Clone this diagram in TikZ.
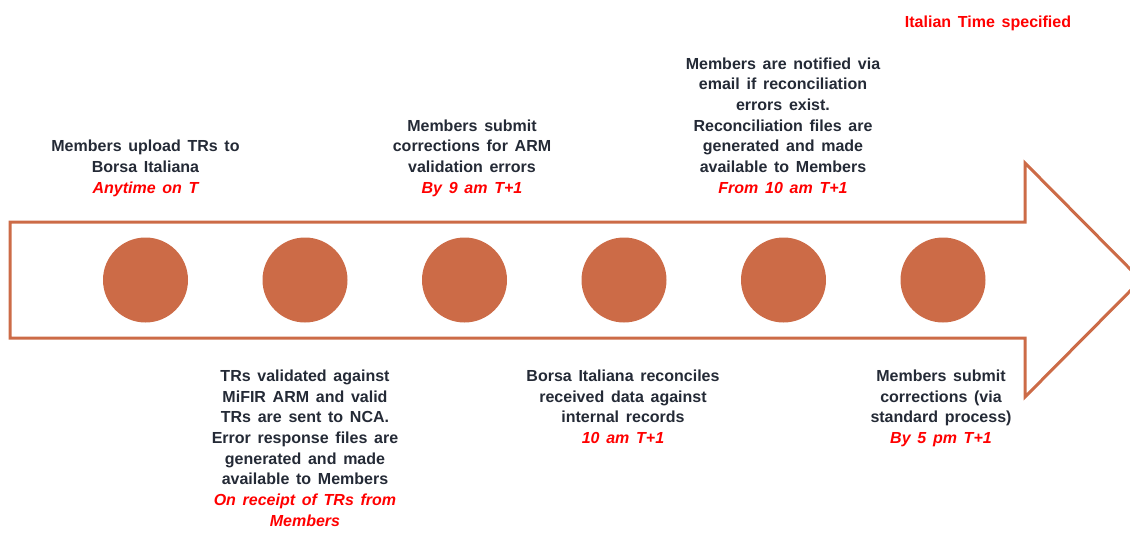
\documentclass[tikz,border=0pt]{standalone}
\usepackage{fontspec}
\setmainfont{Liberation Sans}
\usepackage{tikz}
\definecolor{rust}{RGB}{204,107,71}
\definecolor{ink}{RGB}{36,42,54}
\definecolor{timered}{RGB}{255,0,0}
\newcommand{\widespaces}{\spaceskip=0.42em plus 0.1em\relax}
\tikzset{
  arrowline/.style={draw=rust, line width=3pt, line join=miter},
  dot/.style={circle, fill=rust, draw=none, minimum size=85pt, inner sep=0pt},
  stepnote/.style={align=center, inner sep=0pt, anchor=north, text=ink,
    font=\fontsize{16}{20.7}\selectfont\bfseries\widespaces},
}
\newcommand{\when}[1]{{\color{timered}\itshape #1}}

\begin{document}
\begin{tikzpicture}[x=1pt, y=-1pt]
      \def\axis{280}
      \def\capht{11.5}
      \useasboundingbox (0,0) rectangle (1130,539);

      % Main arrow
      \draw[arrowline] (10,222) -- (1025,222) -- (1025,163) -- (1141,\axis)
        -- (1025,397) -- (1025,338) -- (10,338) -- cycle;

      % Milestones
      \foreach \x/\step in {145.5/upload, 305/validate, 464.5/correct, 624/reconcile, 783.5/notify, 943/resubmit} {
        \node[dot] (\step) at (\x,\axis) {};
      }

      % Notes above the arrow
      \node[stepnote] (uploadnote) at (145.5,{193-2*20.7-\capht})
        {Members upload TRs to\\ Borsa Italiana\\ \when{Anytime on T}};
      \node[stepnote] (correctnote) at (472,{193-3*20.7-\capht})
        {Members submit\\ corrections for ARM\\ validation errors\\ \when{By 9 am T+1}};
      \node[stepnote] (notifynote) at (783,{193-6*20.7-\capht})
        {Members are notified via\\ email if reconciliation\\ errors exist.\\ Reconciliation files are\\
         generated and made\\ available to Members\\ \when{From 10 am T+1}};

      % Notes below the arrow
      \node[stepnote] (validatenote) at (305,{381-\capht})
        {TRs validated against\\ MiFIR ARM and valid\\ TRs are sent to NCA.\\ Error response files are\\
         generated and made\\ available to Members\\ \when{On receipt of TRs from}\\ \when{Members}};
      \node[stepnote] (reconcilenote) at (623,{381-\capht})
        {Borsa Italiana reconciles\\ received data against\\ internal records\\ \when{10 am T+1}};
      \node[stepnote] (resubmitnote) at (941,{381-\capht})
        {Members submit\\ corrections (via\\ standard process)\\ \when{By 5 pm T+1}};

      % Time zone
      \node[stepnote, text=timered] (zone) at (988,{27-\capht}) {Italian Time specified};
    \end{tikzpicture}
\end{document}
